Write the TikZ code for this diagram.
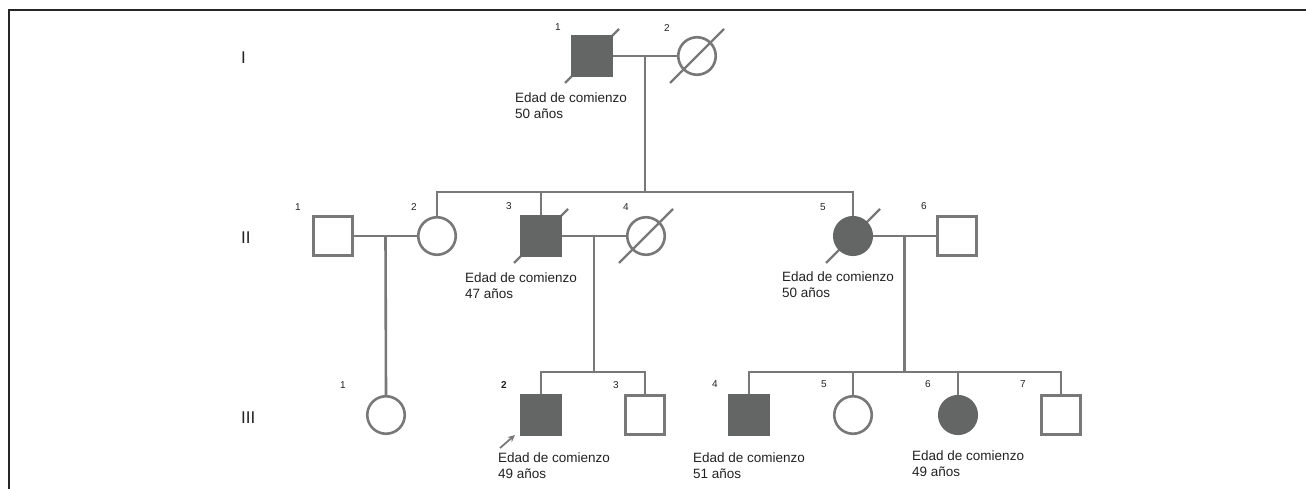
\documentclass[tikz,border=0pt]{standalone}
\usepackage{fontspec}
\setmainfont{Liberation Sans}
\usetikzlibrary{arrows.meta,calc,backgrounds}
\definecolor{pedline}{HTML}{787878}
\definecolor{pedfill}{HTML}{646666}
\definecolor{pedtext}{HTML}{222222}

\begin{document}
\begin{tikzpicture}[x=1pt, y=-1pt,
  male/.style={rectangle, draw=pedline, line width=2.6pt, minimum size=39.5pt, inner sep=0pt},
  female/.style={circle, draw=pedline, line width=2.6pt, minimum size=37.5pt, inner sep=0pt},
  aff/.style={fill=pedfill, draw=pedfill},
  link/.style={draw=pedline, line width=2.6pt},
  dead/.style={draw=pedline, line width=2.4pt},
  num/.style={font=\fontsize{10}{12}\selectfont, text=pedtext, inner sep=0pt},
  gen/.style={font=\fontsize{17}{20}\selectfont, text=pedtext, anchor=west, inner sep=0pt},
  onset/.style={font=\fontsize{13.5}{16}\selectfont, text=pedtext, align=left, anchor=north west, inner sep=0pt},
  proband/.style={-{Stealth[length=7pt,width=6.5pt]}, draw=pedline, line width=1.8pt}]
\useasboundingbox (0,0) rectangle (1306,489);
\draw[line width=2.6pt, draw=black!85] (1306,10) -- (9,10) -- (9,489);
% generation labels
\node[gen] (gI) at (241,58) {I};
\node[gen] (gII) at (241,238) {II};
\node[gen] (gIII) at (241,418) {III};
% generation I
\node[male, aff] (i1) at (592,56) {};
\node[female] (i2) at (697,56) {};
% generation II
\node[male] (ii1) at (333,236) {};
\node[female] (ii2) at (437,236) {};
\node[male, aff] (ii3) at (541,236) {};
\node[female] (ii4) at (646,236) {};
\node[female, aff] (ii5) at (853,236) {};
\node[male] (ii6) at (957,236) {};
% generation III
\node[female] (iii1) at (386,415) {};
\node[male, aff] (iii2) at (541,415) {};
\node[male] (iii3) at (645,415) {};
\node[male, aff] (iii4) at (749,415) {};
\node[female] (iii5) at (853,415) {};
\node[female, aff] (iii6) at (958,415) {};
\node[male] (iii7) at (1061,415) {};
% numbers
\node[num] at (558,27) {1};
\node[num] at (667,28) {2};
\node[num] at (298,207) {1};
\node[num] at (414,207) {2};
\node[num] at (509,206) {3};
\node[num] at (626,207) {4};
\node[num] at (823,207) {5};
\node[num] at (924,206) {6};
\node[num] at (343,385) {1};
\node[num, font=\fontsize{10}{12}\selectfont\bfseries] at (504,385) {2};
\node[num] at (616,385) {3};
\node[num] at (715,384) {4};
\node[num] at (824,384) {5};
\node[num] at (928,384) {6};
\node[num] at (1023,384) {7};
% age of onset
\node[onset] (t1) at (515,93) {Edad de comienzo\\50 años};
\node[onset] (t2) at (465,273) {Edad de comienzo\\47 años};
\node[onset] (t3) at (782,272) {Edad de comienzo\\50 años};
\node[onset] (t4) at (498,453) {Edad de comienzo\\49 años};
\node[onset] (t5) at (693,453) {Edad de comienzo\\51 años};
\node[onset] (t6) at (912,451) {Edad de comienzo\\49 años};
% couples
\draw[link] (i1) -- (i2);
\draw[link] (ii1) -- (ii2);
\draw[link] (ii3) -- (ii4);
\draw[link] (ii5) -- (ii6);
\coordinate (m1) at ($(i1.east)!.5!(i2.west)$);
\coordinate (m2) at ($(ii1.east)!.5!(ii2.west)$);
\coordinate (m3) at ($(ii3.east)!.5!(ii4.west)$);
\coordinate (m4) at ($(ii5.east)!.5!(ii6.west)$);
% sibships
\coordinate (s1) at (m1 |- 0,192);
\coordinate (s3) at (m3 |- 0,372);
\coordinate (s4) at (m4 |- 0,372);
\draw[link] (m1) -- (s1);
\draw[link] (ii2.north) -- (ii2.north |- s1) -- (ii5.north |- s1) -- (ii5.north);
\draw[link] (ii3.north) -- (ii3.north |- s1);
\draw[link] (m2) -- (iii1.north);
\draw[link] (m3) -- (s3);
\draw[link] (iii2.north) -- (iii2.north |- s3) -- (iii3.north |- s3) -- (iii3.north);
\draw[link] (m4) -- (s4);
\draw[link] (iii4.north) -- (iii4.north |- s4) -- (iii7.north |- s4) -- (iii7.north);
\draw[link] (iii5.north) -- (iii5.north |- s4);
\draw[link] (iii6.north) -- (iii6.north |- s4);
% deceased
\begin{scope}[on background layer]
  \foreach \p in {i1,i2,ii3,ii4,ii5}
    \draw[dead] ([shift={(-27,27)}]\p.center) -- ([shift={(27,-27)}]\p.center);
\end{scope}
% proband
\coordinate (pb) at ([shift={(-20,12)}]iii2.south west);
\draw[proband] (pb) -- ([shift={(-5,-1)}]iii2.south west);
\end{tikzpicture}
\end{document}
